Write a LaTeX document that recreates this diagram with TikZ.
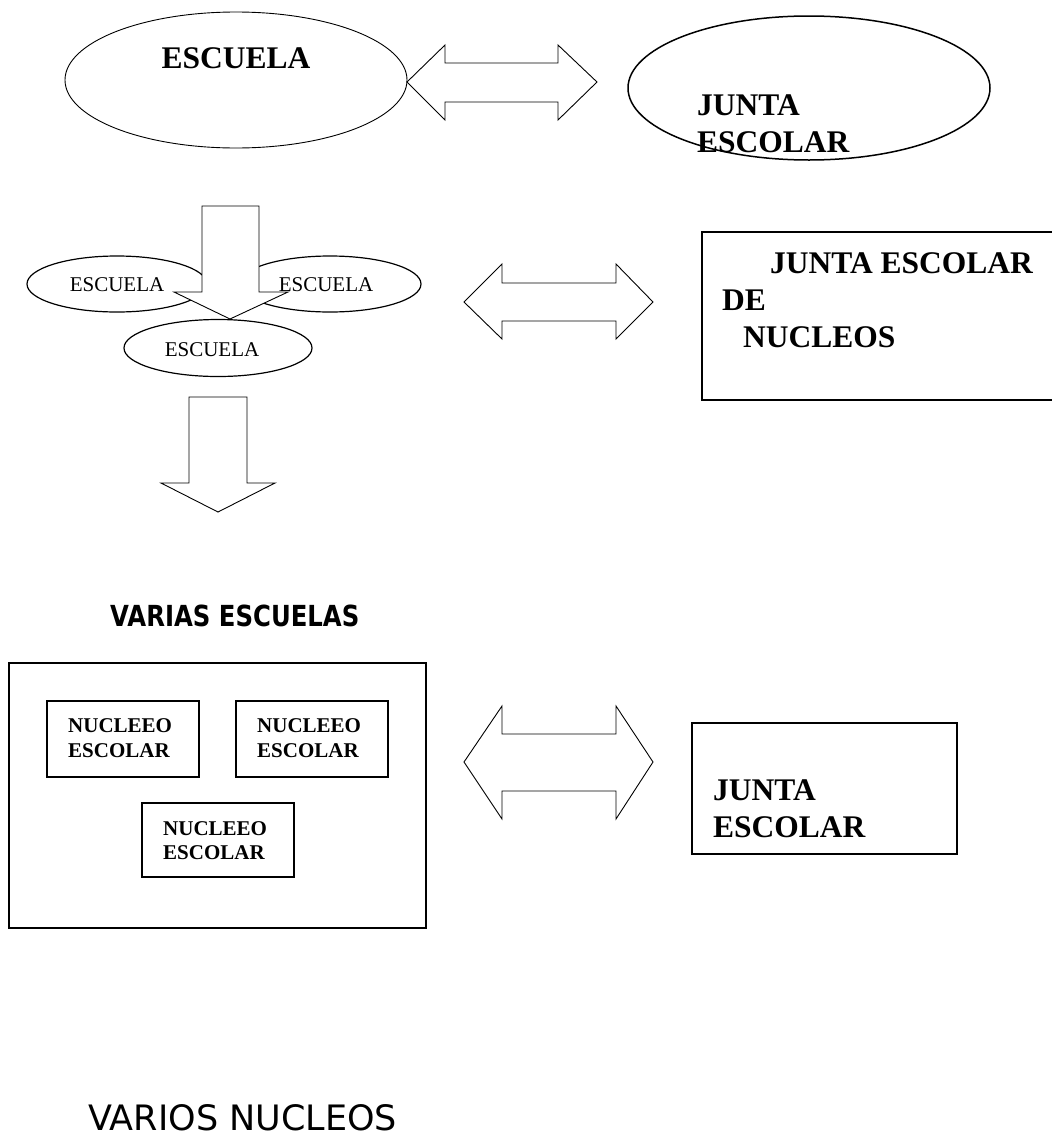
\documentclass[tikz,border=0pt]{standalone}
\usepackage{fontspec}
\usepackage{graphicx}
\setmainfont{Liberation Serif}
\newfontfamily\tahomaish{DejaVu Sans}
\usetikzlibrary{shapes.geometric}

\begin{document}
\begin{tikzpicture}[x=1pt, y=-1pt,
    ovalo/.style={ellipse, draw, line width=1.2pt, inner sep=0pt},
    caja/.style={draw, line width=1.8pt},
    flecha/.style={draw, fill=white, line width=0.9pt},
    grande/.style={font=\bfseries\fontsize{31.5}{36}\selectfont, inner sep=0pt, anchor=base west},
    chica/.style={font=\fontsize{21}{25}\selectfont, inner sep=0pt, anchor=base},
    nucleo/.style={font=\bfseries\fontsize{21}{25}\selectfont, inner sep=0pt, anchor=base west},
    titulo/.style={font=\tahomaish, inner sep=0pt, anchor=base west}]
        \useasboundingbox (0,0) rectangle (1052,1138);
        % fila de arriba
        \node[ovalo, line width=0.9pt, minimum width=342pt, minimum height=136pt] (escuela) at (236,80) {};
        \node[grande, anchor=base] (escuelaT) at (236,68) {ESCUELA};
        \node[ovalo, line width=1.5pt, minimum width=362pt, minimum height=144pt] (junta) at (809,88) {};
        \node[grande] (juntaA) at (697,115) {JUNTA};
        \node[grande] (juntaB) at (697,152) {ESCOLAR};
        \draw[flecha] (407,82) -- (445,45) -- (445,63) -- (558,63) -- (558,45)
          -- (597,82) -- (558,120) -- (558,102) -- (445,102) -- (445,120) -- cycle;
        % fila del medio
        \node[ovalo, minimum width=180pt, minimum height=56pt] (esc1) at (117,284) {};
        \node[ovalo, minimum width=182pt, minimum height=56pt] (esc2) at (330,284) {};
        \draw[flecha] (202,206) -- (259,206) -- (259,292) -- (288,292) -- (230,319)
          -- (174,292) -- (202,292) -- cycle;
        \node[ovalo, fill=white, minimum width=188pt, minimum height=57pt] (esc3) at (218,348) {};
        \node[chica] (esc1T) at (117,291) {ESCUELA};
        \node[chica] (esc2T) at (326,291) {ESCUELA};
        \node[chica] (esc3T) at (212,356) {ESCUELA};
        \draw[flecha] (189,397) -- (247,397) -- (247,483) -- (275,483) -- (218,512)
          -- (161,483) -- (189,483) -- cycle;
        \draw[flecha] (464,302) -- (502,264) -- (502,283) -- (616,283) -- (616,264)
          -- (653,302) -- (616,339) -- (616,321) -- (502,321) -- (502,339) -- cycle;
        \draw[caja] (702,232) rectangle (1060,400);
        \node[grande] (jnA) at (770,273) {JUNTA ESCOLAR};
        \node[grande] (jnB) at (722,310) {DE};
        \node[grande] (jnC) at (743,347) {NUCLEOS};
        % fila de abajo
        \node[titulo, font=\tahomaish\bfseries\fontsize{29}{34}\selectfont] (varias) at (110,626)
          {\scalebox{0.84}[1]{VARIAS ESCUELAS}};
        \draw[caja] (9,663) rectangle (426,928);
        \draw[caja] (47,701) rectangle (199,777);
        \draw[caja] (236,701) rectangle (388,777);
        \draw[caja] (142,803) rectangle (294,877);
        \node[nucleo] (n1a) at (68,732) {NUCLEEO};
        \node[nucleo] (n1b) at (68,757) {ESCOLAR};
        \node[nucleo] (n2a) at (257,732) {NUCLEEO};
        \node[nucleo] (n2b) at (257,757) {ESCOLAR};
        \node[nucleo] (n3a) at (163,835) {NUCLEEO};
        \node[nucleo] (n3b) at (163,859) {ESCOLAR};
        \draw[flecha] (464,762) -- (502,706) -- (502,734) -- (616,734) -- (616,706)
          -- (653,762) -- (616,819) -- (616,791) -- (502,791) -- (502,819) -- cycle;
        \draw[caja] (692,723) rectangle (957,854);
        \node[grande] (jeA) at (713,800) {JUNTA};
        \node[grande] (jeB) at (713,837) {ESCOLAR};
        \node[titulo, font=\tahomaish\fontsize{35}{40}\selectfont] (varios) at (88,1130) {VARIOS NUCLEOS};
      \end{tikzpicture}
\end{document}
